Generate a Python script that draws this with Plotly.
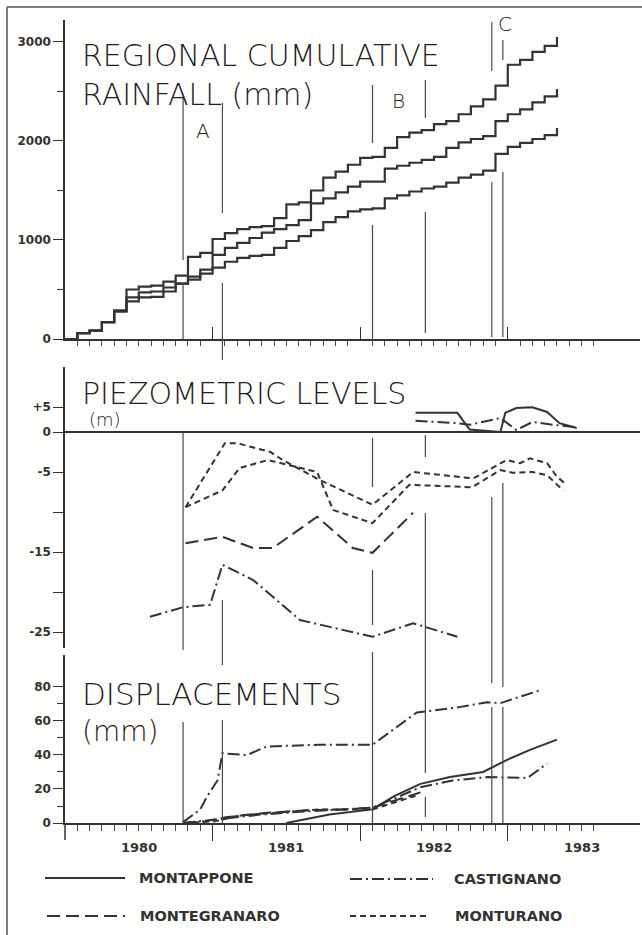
import plotly.graph_objects as go

# ── data (x = months since Jan 1980) ─────────────────────────────
MONTHS = list(range(41))
RAIN_HIGH = [0, 60, 85, 170, 280, 500, 530, 540, 580, 640, 830, 870, 1010, 1070, 1110, 1130,
             1140, 1220, 1360, 1380, 1500, 1630, 1690, 1760, 1830, 1840, 1930, 2040, 2085, 2110,
             2170, 2200, 2270, 2350, 2420, 2560, 2770, 2820, 2900, 2960, 3050]
RAIN_MID = [0, 60, 85, 170, 290, 420, 470, 480, 520, 560, 630, 700, 850, 920, 970, 1020,
            1075, 1110, 1150, 1200, 1370, 1420, 1480, 1540, 1590, 1590, 1720, 1750, 1780, 1810,
            1840, 1930, 1985, 2020, 2050, 2200, 2270, 2320, 2390, 2450, 2525]
RAIN_LOW = [0, 60, 85, 170, 280, 380, 420, 425, 480, 560, 600, 660, 720, 780, 820, 840,
            850, 920, 990, 1040, 1100, 1180, 1230, 1290, 1310, 1320, 1420, 1450, 1490, 1520,
            1540, 1580, 1630, 1660, 1700, 1870, 1940, 1980, 2020, 2060, 2130]

# piezometric levels (m)
PZ_MONTURANO1_X = [9.8, 13.0, 14.0, 16.7, 17.7, 20.7, 25.0, 28.3, 33.2, 35.9, 37.0, 37.8, 39.2, 40.0, 40.8]
PZ_MONTURANO1_Y = [-9.4, -1.4, -1.4, -2.5, -3.5, -6.0, -9.1, -5.0, -5.8, -3.5, -3.9, -3.3, -3.9, -5.6, -6.6]
PZ_MONTURANO2_X = [9.8, 12.8, 14.2, 16.5, 20.5, 21.8, 25.0, 28.0, 33.1, 35.4, 36.4, 38.0, 39.2, 40.5]
PZ_MONTURANO2_Y = [-9.4, -7.3, -4.5, -3.5, -5.0, -9.75, -11.4, -6.6, -6.9, -4.75, -5.1, -5.0, -5.4, -7.3]
PZ_MONTEGRANARO_X = [9.8, 12.8, 15.3, 16.9, 20.5, 23.4, 25.0, 28.3]
PZ_MONTEGRANARO_Y = [-13.9, -13.1, -14.5, -14.5, -10.6, -14.5, -15.1, -10.1]
PZ_CASTIGNANO1_X = [6.9, 9.6, 11.8, 12.8, 15.3, 19.1, 25.0, 28.3, 31.9]
PZ_CASTIGNANO1_Y = [-23.1, -21.9, -21.6, -16.6, -18.5, -23.5, -25.6, -23.9, -25.6]
PZ_CASTIGNANO2_X = [28.5, 31.9, 32.9, 35.4, 36.7, 38.0, 39.7, 41.6]
PZ_CASTIGNANO2_Y = [1.4, 1.1, 0.9, 1.75, 0.25, 1.25, 0.9, 0.6]
PZ_MONTAPPONE_X = [28.5, 31.9, 32.9, 35.4, 35.8, 36.7, 38.0, 39.2, 40.2, 41.6]
PZ_MONTAPPONE_Y = [2.4, 2.4, 0.3, 0.0, 2.4, 3.0, 3.1, 2.5, 1.1, 0.5]
PZ_TICKVALS = [3.125, 0, -5, -10, -15, -20, -25]
PZ_TICKTEXT = ["+5", "0", "-5", "", "-15", "", "-25"]

# displacements (mm)
DS_MONTAPPONE_X = [18.0, 21.5, 25.0, 26.8, 28.9, 31.3, 34.0, 35.9, 37.8, 40.0]
DS_MONTAPPONE_Y = [0, 5, 8, 16, 23, 27, 30, 37, 43, 49]
DS_MONTEGRANARO_X = [9.6, 11.4, 13.2, 16.4, 19.7, 22.9, 25.0, 27.2, 28.9]
DS_MONTEGRANARO_Y = [0, 1, 3.5, 6, 7.5, 8, 9, 14, 18]
DS_MONTURANO_X = [9.6, 12.2, 14.2, 17.5, 20.7, 25.0, 27.2, 28.5]
DS_MONTURANO_Y = [0, 1, 4.5, 6.5, 8, 8, 13, 16]
DS_CASTIGNANO1_X = [9.6, 11.0, 11.5, 12.4, 12.8, 14.8, 16.4, 20.7, 25.0, 28.6, 31.9, 34.3, 35.4, 38.6]
DS_CASTIGNANO1_Y = [0.5, 8, 15, 25, 41, 40, 45, 46, 46, 65, 68, 71, 70.5, 78]
DS_CASTIGNANO2_X = [9.6, 12.0, 16.0, 20.0, 25.0, 28.9, 31.5, 34.3, 37.6, 39.2]
DS_CASTIGNANO2_Y = [0, 2, 5, 7, 9, 21, 25, 27, 26.5, 35]

YEARS = ["1980", "1981", "1982", "1983"]
YEAR_MID = [6, 18, 30, 42]
PERIODS = {"A": (9.6, 12.8), "B": (25.0, 29.3), "C": (34.7, 35.6)}

# ── styling ──────────────────────────────────────────────────────
INK = "#333333"
THIN = "#4a4a4a"
TITLE_FONT = dict(family="DejaVu Sans", color="#1e1e1e", weight=200)
BOLD = "DejaVu Sans"
DASH = {"solid": "solid", "long": "13px,6px", "short": "6px,4px", "dashdot": "12px,4px,2px,4px"}


def py(p):  # page pixel y -> paper
    return (823 - p) / 803


def px(p):  # page pixel x -> paper
    return (p - 65) / 575


fig = go.Figure()


def add(x, y, axis, dash, shape="linear", width=2):
    fig.add_trace(go.Scatter(x=x, y=y, mode="lines", xaxis="x" + axis, yaxis="y" + axis,
                             line=dict(color=INK, width=width, dash=DASH[dash], shape=shape),
                             hoverinfo="skip", showlegend=False))


for r in (RAIN_HIGH, RAIN_MID, RAIN_LOW):
    add(MONTHS, r, "", "solid", shape="hv", width=2.2)

add(PZ_MONTURANO1_X, PZ_MONTURANO1_Y, "2", "short")
add(PZ_MONTURANO2_X, PZ_MONTURANO2_Y, "2", "short")
add(PZ_MONTEGRANARO_X, PZ_MONTEGRANARO_Y, "2", "long")
add(PZ_CASTIGNANO1_X, PZ_CASTIGNANO1_Y, "2", "dashdot")
add(PZ_CASTIGNANO2_X, PZ_CASTIGNANO2_Y, "2", "dashdot")
add(PZ_MONTAPPONE_X, PZ_MONTAPPONE_Y, "2", "solid")

add(DS_MONTEGRANARO_X, DS_MONTEGRANARO_Y, "3", "long")
add(DS_MONTURANO_X, DS_MONTURANO_Y, "3", "short")
add(DS_CASTIGNANO2_X, DS_CASTIGNANO2_Y, "3", "dashdot")
add(DS_CASTIGNANO1_X, DS_CASTIGNANO1_Y, "3", "dashdot")
add(DS_MONTAPPONE_X, DS_MONTAPPONE_Y, "3", "solid")

XR = [0, 46.75]
monthly = [m for m in range(1, 44) if m % 12]
tickfont = dict(family=BOLD, size=12, color=INK, weight="bold")

axis_common = dict(range=XR, showgrid=False, zeroline=False, fixedrange=True)
fig.update_layout(
    width=642, height=935,
    margin=dict(l=65, r=2, t=20, b=112),
    paper_bgcolor="#fdfdfc", plot_bgcolor="rgba(0,0,0,0)",
    xaxis=dict(axis_common, anchor="y", showline=True, linecolor=INK, linewidth=1.5,
               tickvals=[12, 24, 36], ticks="inside", ticklen=12, tickcolor=INK, showticklabels=False,
               minor=dict(tickvals=monthly, ticks="outside", ticklen=5, tickcolor=THIN)),
    xaxis2=dict(axis_common, anchor="y2", visible=False),
    xaxis3=dict(axis_common, anchor="y3", showline=True, linecolor=INK, linewidth=1.5,
                tickvals=[12, 24, 36], ticks="outside", ticklen=16, tickcolor=INK, showticklabels=False,
                minor=dict(tickvals=monthly, ticks="outside", ticklen=6, tickcolor=THIN)),
    yaxis=dict(domain=[py(339), py(20)], range=[0, 3222], showgrid=False, zeroline=False,
               showline=True, linecolor=INK, linewidth=1.5, anchor="x", fixedrange=True,
               tickvals=[0, 1000, 2000, 3000], ticks="outside", ticklen=10, tickcolor=INK,
               tickfont=tickfont, minor=dict(tickvals=[500, 1500, 2500], ticks="outside",
                                             ticklen=6, tickcolor=INK)),
    yaxis2=dict(domain=[py(648), py(367)], range=[-27, 8.125], showgrid=False,
                zeroline=True, zerolinecolor=INK, zerolinewidth=1.5, fixedrange=True,
                showline=True, linecolor=INK, linewidth=1.5, anchor="x2",
                tickvals=PZ_TICKVALS, ticktext=PZ_TICKTEXT, ticks="outside", ticklen=10,
                tickcolor=INK, tickfont=tickfont),
    yaxis3=dict(domain=[0, py(655)], range=[0, 98.8], showgrid=False, zeroline=False,
                showline=True, linecolor=INK, linewidth=1.5, anchor="x3", fixedrange=True,
                tickvals=[0, 20, 40, 60, 80], ticks="outside", ticklen=10, tickcolor=INK,
                tickfont=tickfont, minor=dict(tickvals=[10, 30, 50, 70], ticks="outside",
                                              ticklen=6, tickcolor=INK)),
)

shapes = []
# frame of the scanned page
shapes.append(dict(type="line", xref="paper", yref="paper", x0=px(7), x1=px(642), y0=py(7), y1=py(7),
                   line=dict(color="#555", width=1.5)))
shapes.append(dict(type="line", xref="paper", yref="paper", x0=px(7), x1=px(7), y0=py(7), y1=py(935),
                   line=dict(color="#555", width=1.5)))
# y axis stub under the displacement panel
shapes.append(dict(type="line", xref="paper", yref="paper", x0=0, x1=0, y0=py(823), y1=py(840),
                   line=dict(color=INK, width=1.5)))

# period marker lines, broken where the curves pass (page pixel extents)
SEGMENTS = {
    ("A", 0): [(98, 260), (283, 340), (432, 650), (722, 823)],
    ("A", 1): [(103, 213), (283, 360), (600, 665), (720, 823)],
    ("B", 0): [(85, 143), (225, 340), (438, 487), (570, 625), (652, 823)],
    ("B", 1): [(80, 118), (212, 333), (435, 457), (513, 773), (797, 817)],
    ("C", 0): [(22, 71), (182, 337), (497, 683), (707, 823)],
    ("C", 1): [(40, 60), (172, 337), (483, 687), (707, 823)],
}
for (name, i), segs in SEGMENTS.items():
    xm = PERIODS[name][i]
    for a, b in segs:
        shapes.append(dict(type="line", xref="x", yref="paper", x0=xm, x1=xm, y0=py(a), y1=py(b),
                           line=dict(color=THIN, width=1.2)))

# legend samples
LEGEND = [("MONTAPPONE", "solid", 45, 125, 137, 878),
          ("CASTIGNANO", "dashdot", 350, 433, 452, 879),
          ("MONTEGRANARO", "long", 47, 125, 138, 916),
          ("MONTURANO", "short", 350, 430, 453, 916)]
annotations = []
for label, dash, l0, l1, tx, ty in LEGEND:
    shapes.append(dict(type="line", xref="paper", yref="paper", x0=px(l0), x1=px(l1), y0=py(ty), y1=py(ty),
                       line=dict(color=INK, width=2, dash=DASH[dash])))
    annotations.append(dict(text="<b>" + label + "</b>", xref="paper", yref="paper", x=px(tx), y=py(ty),
                            xanchor="left", yanchor="middle", showarrow=False,
                            font=dict(family=BOLD, size=14.5, color=INK)))

for yr, xm in zip(YEARS, YEAR_MID):
    annotations.append(dict(text="<b>" + yr + "</b>", xref="x3", yref="paper", x=xm, y=py(848),
                            xanchor="center", yanchor="middle", showarrow=False,
                            font=dict(family=BOLD, size=13, color=INK)))

TITLES = [("REGIONAL CUMULATIVE", 80, 56, 30), ("RAINFALL (mm)", 80, 94, 30),
          ("PIEZOMETRIC LEVELS", 80, 393, 30), ("(m)", 87, 419, 18),
          ("DISPLACEMENTS", 80, 694, 31), ("(mm)", 80, 731, 28)]
for text, tx, ty, size in TITLES:
    annotations.append(dict(text=text, xref="paper", yref="paper", x=px(tx), y=py(ty),
                            xanchor="left", yanchor="middle", showarrow=False,
                            font=dict(TITLE_FONT, size=size)))

LETTER_Y = {"A": 131, "B": 101, "C": 24}
LETTER_SHIFT = {"A": 0, "B": 0, "C": 8}
for name, (a, b) in PERIODS.items():
    annotations.append(dict(text=name, xref="x", yref="paper", x=(a + b) / 2, y=py(LETTER_Y[name]),
                            xshift=LETTER_SHIFT[name], xanchor="center", yanchor="middle",
                            showarrow=False, font=dict(TITLE_FONT, size=20)))

fig.update_layout(shapes=shapes, annotations=annotations)
# the page body adds an 8px margin; drop it so the figure sits at the window corner
fig.write_html("out.html", config={"displayModeBar": False},
               post_script="document.body.style.margin='0';")
